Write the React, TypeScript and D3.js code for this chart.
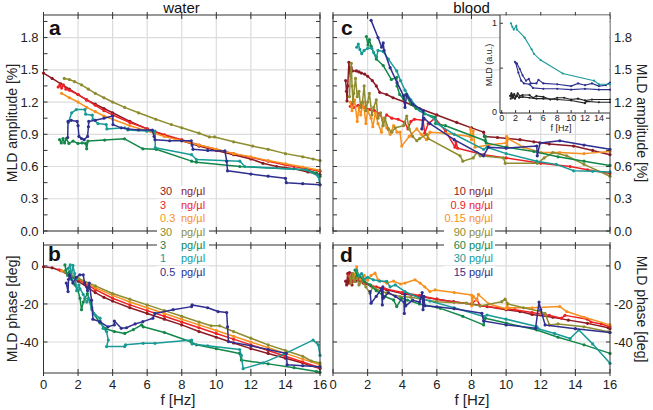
import React from 'react';
import * as d3 from 'd3';

type Pt = [number, number];

// ---------- Panel a: water, amplitude [%] ----------
const waterAmp30ng: Pt[] = [[0,1.47],[0.5,1.42],[1,1.37],[1.5,1.32],[2,1.27],[2.5,1.22],[3,1.18],[3.5,1.14],[4,1.10],[5,1.02],[6,0.95],[7,0.89],[8,0.84],[9,0.79],[10,0.75],[11,0.71],[12,0.67],[12.7,0.63],[13.5,0.60],[14.5,0.58],[15.3,0.55],[16,0.525]];
const waterAmp3ng: Pt[] = [[0.85,1.34],[0.95,1.36],[1.05,1.33],[1.15,1.36],[1.3,1.32],[1.5,1.31],[2,1.27],[2.5,1.22],[3,1.17],[3.5,1.12],[4,1.08],[5,1.01],[6,0.95],[7,0.895],[8,0.85],[9,0.80],[10,0.76],[11,0.72],[12,0.685],[13,0.65],[14,0.615],[15,0.585],[16,0.555]];
const waterAmp03ng: Pt[] = [[1.05,1.28],[1.5,1.24],[2,1.2],[2.5,1.15],[3,1.11],[3.5,1.07],[4,1.04],[5,0.98],[6,0.93],[7,0.88],[8,0.84],[9,0.80],[10,0.76],[11,0.72],[12,0.69],[13,0.655],[14,0.625],[15,0.595],[16,0.565]];
const waterAmp30pg: Pt[] = [[1.2,1.42],[1.5,1.41],[1.8,1.39],[2.2,1.36],[2.6,1.32],[3,1.28],[3.5,1.24],[4,1.2],[4.7,1.15],[5.5,1.10],[6.5,1.04],[7.4,0.99],[8,0.96],[9,0.91],[9.6,0.875],[9.9,0.875],[11,0.83],[12.1,0.79],[13,0.76],[14,0.72],[15,0.69],[15.6,0.67],[16,0.655]];
const waterAmp3pg: Pt[] = [[0.93,0.85],[1.03,0.82],[1.13,0.86],[1.22,0.82],[1.32,0.86],[1.47,0.815],[1.71,0.837],[1.99,0.815],[2.24,0.82],[2.44,0.815],[2.5,0.765],[2.57,0.837],[3.54,0.846],[4.69,0.858],[5.75,0.765],[6.52,0.76],[8.57,0.65],[8.85,0.64],[11.36,0.60],[15.2,0.57],[15.8,0.54],[16,0.51]];
const waterAmp1pg: Pt[] = [[1.44,1.01],[1.63,1.10],[1.9,1.13],[2.4,1.13],[2.44,1.087],[2.82,1.078],[2.86,1.04],[3.15,1.0],[3.63,0.99],[3.67,0.95],[4.7,0.96],[4.88,0.94],[5.96,0.93],[6.45,0.93],[6.47,0.775],[8.57,0.71],[8.85,0.665],[11.36,0.65],[11.65,0.60],[15.2,0.57],[15.9,0.51],[16,0.43]];
const waterAmp05pg: Pt[] = [[1.4,0.87],[1.42,1.02],[1.6,1.03],[1.95,1.02],[2.0,0.98],[2.05,0.88],[2.2,0.86],[2.35,0.85],[2.55,0.88],[2.6,0.97],[2.62,1.02],[3.0,1.03],[3.5,1.05],[4.0,1.07],[4.02,0.99],[4.5,0.96],[4.9,0.95],[5.5,0.94],[6.3,0.94],[6.4,0.88],[6.45,0.85],[7.3,0.84],[8.0,0.84],[8.55,0.84],[8.6,0.80],[8.65,0.76],[9.5,0.75],[10.5,0.745],[10.6,0.65],[10.65,0.56],[12,0.53],[13,0.51],[14.0,0.49],[14.05,0.45],[15,0.44],[16,0.43]];

// ---------- Panel b: water, phase [deg] ----------
const waterPh30ng: Pt[] = [[0,-0.5],[0.5,-1],[1,-2.5],[1.5,-5],[2,-8],[2.5,-11],[3,-14],[3.5,-16.5],[4,-18.5],[5,-22],[6,-25],[7,-28],[8,-31],[9,-34.5],[10,-37.5],[11,-40.5],[12,-43.5],[13,-46],[14,-48.5],[15,-51],[16,-54]];
const waterPh3ng: Pt[] = [[0.9,-2],[1.5,-4.5],[2,-7],[3,-12.5],[4,-17],[5,-20.5],[6,-23.5],[7,-26.5],[8,-29.5],[9,-32.5],[10,-35.5],[11,-38.5],[12,-41.5],[13,-44.5],[14,-47.5],[15,-50.5],[16,-53.5]];
const waterPh03ng: Pt[] = [[1.05,-2.5],[2,-6.5],[3,-11.5],[4,-15.5],[5,-19],[6,-22],[7,-25],[8,-28],[9,-31],[10,-34],[11,-37],[12,-40],[13,-43],[14,-46],[15,-49],[16,-52]];
const waterPh30pg: Pt[] = [[1.2,-3],[2,-6.5],[3,-10.5],[4,-14.5],[5,-17.5],[6,-20.5],[7,-23.5],[8,-26.5],[9,-29.5],[9.7,-31.5],[10.2,-31.5],[11,-34.5],[12,-38],[13,-41.5],[14,-44.5],[15,-47.5],[15.5,-50],[16,-51]];
const waterPh3pg: Pt[] = [[1.24,0.5],[1.3,-2],[1.4,-5],[1.5,-3],[1.6,-6],[1.82,-10],[2.0,-13],[2.11,-17],[2.2,-23],[2.3,-19],[2.4,-17],[2.54,-14.5],[2.7,-19],[2.8,-22],[2.9,-25],[3.27,-30],[3.6,-33],[4.1,-34.5],[4.7,-35.5],[5.2,-33.5],[5.68,-31],[5.77,-32],[7.0,-35],[8.55,-40],[8.85,-41.5],[10,-43.5],[11.35,-46],[11.45,-49.5],[13,-51.5],[14.5,-53.5],[15.8,-55.5],[16,-56]];
const waterPh1pg: Pt[] = [[1.43,-1.3],[1.55,0.5],[1.6,-7],[1.7,0.3],[1.8,-4],[1.85,-7],[1.92,-13],[2.05,-10],[2.11,-12],[2.3,-15],[2.5,-19],[2.6,-17],[2.8,-23],[2.99,-25.8],[3.27,-27.5],[3.45,-32.8],[3.65,-34.5],[3.75,-39],[3.65,-42.4],[4.7,-42.4],[4.75,-41.5],[5.77,-40.7],[6.45,-40.7],[8.57,-39],[8.6,-41],[9.5,-42],[11.35,-44],[11.45,-47],[11.55,-54],[12.7,-51],[14,-46],[15.6,-39],[15.9,-41.5],[16,-47]];
const waterPh05pg: Pt[] = [[1.32,-9],[1.42,-13.5],[1.45,-7],[1.52,-4.7],[1.7,-9],[1.9,-6],[2.1,-4.7],[2.3,-4.7],[2.38,-9],[2.55,-13],[2.65,-9],[2.78,-18],[2.86,-28],[3.25,-29.3],[3.73,-32],[4.1,-31],[4.1,-29],[4.5,-32.8],[4.8,-32.5],[5.3,-30.5],[5.75,-29.3],[6.33,-27.5],[6.45,-25],[7.5,-23],[8.57,-21.4],[8.6,-20.5],[9.5,-22],[10.1,-24],[10.6,-24.5],[10.65,-32],[10.7,-39.8],[12,-42],[13,-44],[14.05,-46],[14.1,-52],[15,-52.5],[16,-53]];

// ---------- Panel c: blood, amplitude [%] ----------
const bloodAmp10ng: Pt[] = [[0.73,1.40],[0.78,1.30],[0.81,1.21],[0.85,1.35],[0.92,1.57],[0.95,1.50],[1.0,1.46],[1.05,1.52],[1.12,1.49],[1.35,1.49],[1.5,1.48],[1.64,1.47],[1.83,1.46],[2.0,1.44],[2.27,1.40],[2.5,1.35],[2.7,1.29],[3.1,1.27],[3.47,1.24],[4.14,1.2],[5.0,1.14],[6.0,1.08],[7.15,1.01],[8.0,0.96],[8.7,0.92],[8.75,0.88],[9.5,0.87],[10.8,0.85],[11.6,0.83],[12.5,0.81],[13.9,0.79],[15,0.75],[16,0.71]];
const bloodAmp09ng: Pt[] = [[1.0,1.16],[1.1,1.19],[1.2,1.15],[1.45,1.17],[1.8,1.15],[2.12,1.13],[2.4,1.12],[2.7,1.09],[2.9,1.03],[3.1,1.08],[3.4,1.05],[3.76,1.04],[4.14,1.01],[4.33,0.95],[4.5,1.02],[4.7,1.04],[5.2,1.03],[5.3,0.91],[5.5,1.0],[5.9,1.05],[6.5,0.93],[7.05,0.78],[7.1,0.83],[7.2,0.77],[8.7,0.71],[10,0.68],[12,0.63],[13.7,0.60],[14.7,0.57],[16,0.535]];
const bloodAmp015ng: Pt[] = [[1.0,1.2],[1.1,1.12],[1.25,1.22],[1.4,1.02],[1.5,1.15],[1.6,1.08],[1.75,1.2],[1.9,1.0],[2.0,1.12],[2.2,1.05],[2.3,0.97],[2.45,1.1],[2.6,1.0],[2.8,0.92],[2.9,1.05],[3.1,0.96],[3.3,0.9],[3.5,0.98],[3.7,0.92],[3.87,0.92],[3.97,0.79],[4.4,0.88],[4.84,0.95],[5.1,0.9],[5.4,0.85],[5.6,0.92],[6.5,0.91],[7.92,0.88],[7.95,0.95],[8.0,0.85],[8.1,0.93],[8.2,0.78],[9.0,0.8],[10.0,0.82],[10.03,0.88],[10.06,0.79],[10.1,0.86],[11,0.78],[12,0.73],[13.1,0.73],[14.5,0.72],[16,0.74]];
const bloodAmp90pg: Pt[] = [[0.95,1.25],[1.0,1.45],[1.06,1.56],[1.1,1.35],[1.15,1.2],[1.2,1.28],[1.3,1.42],[1.4,1.25],[1.5,1.3],[1.6,1.15],[1.7,1.2],[1.8,1.35],[1.9,1.12],[2.0,1.2],[2.1,1.28],[2.25,1.08],[2.35,1.15],[2.5,1.22],[2.6,1.05],[2.75,1.1],[2.9,0.98],[3.0,1.05],[3.2,0.95],[3.4,0.92],[3.6,0.96],[4.07,0.98],[4.26,1.07],[4.4,0.95],[4.6,0.88],[4.84,0.84],[5.0,0.86],[5.41,0.90],[5.5,0.86],[7.34,0.70],[7.5,0.65],[8.1,0.68],[8.3,0.73],[8.5,0.70],[9.85,0.68],[9.95,0.63],[11.8,0.63],[12.2,0.68],[12.7,0.73],[13.5,0.70],[14.5,0.62],[16,0.51]];
const bloodAmp60pg: Pt[] = [[1.93,1.81],[2.02,1.73],[2.1,1.78],[2.2,1.72],[2.5,1.60],[2.9,1.54],[3.37,1.41],[3.68,1.43],[3.7,1.35],[3.85,1.27],[4.07,1.23],[4.2,1.27],[4.5,1.18],[4.8,1.14],[5.3,1.09],[5.9,1.06],[5.92,1.0],[6.5,0.98],[8.79,0.84],[8.8,0.88],[8.85,0.82],[10,0.78],[11.6,0.74],[13,0.69],[14.5,0.65],[16,0.61]];
const bloodAmp30pg: Pt[] = [[1.37,1.71],[1.46,1.74],[1.55,1.69],[1.66,1.65],[1.8,1.68],[2.0,1.70],[2.24,1.70],[2.35,1.66],[2.52,1.62],[2.6,1.68],[2.9,1.67],[3.2,1.6],[3.68,1.49],[3.9,1.4],[4.16,1.31],[4.5,1.22],[5.03,1.12],[5.9,1.04],[6.0,1.0],[7,0.9],[8.7,0.76],[8.9,0.78],[10,0.72],[11.77,0.65],[12.9,0.62],[13.9,0.56],[15,0.555],[16,0.55]];
const bloodAmp15pg: Pt[] = [[2.2,1.96],[2.6,1.8],[2.81,1.71],[2.9,1.75],[2.95,1.68],[3.3,1.52],[3.7,1.38],[4.07,1.26],[4.16,1.15],[4.25,1.27],[4.6,1.18],[5.22,1.12],[5.13,0.95],[5.25,1.05],[5.6,1.0],[7,0.85],[8.69,0.70],[8.98,0.78],[10,0.77],[11.77,0.79],[11.8,0.70],[11.96,0.82],[13.1,0.84],[14.5,0.80],[16,0.76]];

// ---------- Panel d: blood, phase [deg] ----------
const bloodPh10ng: Pt[] = [[0.73,-8],[0.79,-10],[0.85,-4],[0.9,-9],[0.95,-3.5],[1.0,-8],[1.05,-6],[1.1,-10],[1.2,-5],[1.3,-8],[1.5,-7],[1.75,-9],[2.2,-10.5],[3.1,-12.6],[4,-14.5],[5.03,-16.1],[6,-17.5],[6.96,-18.8],[8,-20],[8.9,-21.4],[10,-23],[10.8,-24],[11.5,-25.5],[12.7,-27],[13.6,-28.5],[14.7,-30.2],[15.9,-32.5],[16,-33]];
const bloodPh09ng: Pt[] = [[0.9,-5],[1.0,-9],[1.1,-4],[1.2,-8],[1.3,-6],[1.5,-8],[1.8,-9],[2.5,-11],[3,-12],[4,-14],[5,-15.5],[6,-17.5],[7,-19],[8,-20],[8.3,-17.5],[8.5,-21],[9.5,-22],[10.5,-23],[11.5,-24.5],[12.5,-26],[13.2,-27.5],[13.4,-26],[14.7,-28],[14.9,-29.5],[15.5,-30.5],[16,-32]];
const bloodPh015ng: Pt[] = [[1.18,-6.3],[1.3,-4],[1.37,-0.5],[1.45,-5],[1.6,-7],[1.8,-5],[2.0,-7.5],[2.2,-5],[2.43,-3.8],[2.6,-7.3],[3.1,-9],[3.5,-8],[3.9,-9.5],[4.16,-9],[4.74,-7.3],[5.03,-9],[5.3,-11],[5.6,-13.5],[5.9,-12.6],[7,-14],[8.0,-15.3],[8.02,-21],[8.1,-16],[8.3,-18],[8.4,-15],[9,-20],[10,-22.5],[10.05,-19.5],[10.1,-22],[11.5,-22],[13.1,-21.4],[13.5,-24],[14.5,-27],[16,-31]];
const bloodPh90pg: Pt[] = [[0.98,-5.6],[1.05,-9],[1.15,-4],[1.25,-8],[1.4,-6],[1.5,-10],[1.7,-8],[1.9,-11],[2.14,-14.4],[2.3,-11],[2.45,-12],[3.1,-14.4],[3.87,-16.1],[4.5,-16.5],[5.99,-18.8],[7.7,-19.6],[8.5,-21],[9.75,-18.8],[9.94,-17.5],[10.1,-20],[11,-22],[12,-24],[12.25,-25],[12.5,-31],[13,-30.5],[14.5,-32],[15.9,-34.6],[16,-35]];
const bloodPh60pg: Pt[] = [[1.27,-2.2],[1.4,-5],[1.56,-5.6],[1.8,-8],[2.14,-10],[2.5,-13],[3.0,-16.1],[3.5,-17.9],[3.68,-21.4],[3.97,-17],[4.3,-18],[5,-20],[6.2,-22.3],[7.5,-26.5],[8.7,-31],[8.8,-27.5],[10,-30],[11.77,-33.7],[13,-37.5],[14.5,-41.5],[16,-46]];
const bloodPh30pg: Pt[] = [[1.37,-2.2],[1.5,-5],[1.65,-4],[1.8,-7],[2.0,-6],[2.33,-7.3],[2.7,-8],[3.1,-8.1],[3.3,-11],[3.6,-10],[4.16,-13.5],[5.03,-17],[5.6,-18.5],[7,-22],[8.7,-26.6],[8.9,-25.8],[10,-28],[11.77,-31.9],[11.85,-33],[12.8,-35.5],[13.7,-38.2],[14.2,-33.7],[15,-41],[16,-51.2]];
const bloodPh15pg: Pt[] = [[2.14,-13.5],[2.2,-19.6],[2.5,-16],[2.8,-12],[2.85,-20.5],[2.88,-11],[2.9,-17],[3.2,-14],[3.6,-16],[4.1,-19],[4.12,-25],[4.15,-15],[4.2,-21],[4.6,-18],[5.0,-19],[5.15,-14],[5.2,-23],[5.25,-16],[5.3,-21],[6,-21.5],[7,-22.5],[8.6,-24.9],[8.7,-29],[10,-31],[11.7,-32.8],[11.9,-19],[12.0,-23],[12.25,-31],[14,-33],[16,-35]];

// ---------- Inset: MLD (a.u.) ----------
const insetTeal: Pt[] = [[1.33,1.0],[1.53,0.96],[1.73,0.93],[2.1,0.97],[2.2,0.93],[3.3,0.84],[4.3,0.71],[4.64,0.66],[5.6,0.59],[8.8,0.44],[13.3,0.36],[14.0,0.32],[16,0.32]];
const insetNavyA: Pt[] = [[1.9,0.57],[2.2,0.55],[2.6,0.49],[3.0,0.42],[3.5,0.36],[3.9,0.38],[4.2,0.33],[5.0,0.33],[5.3,0.37],[6,0.33],[8,0.32],[10,0.30],[11,0.33],[12,0.31],[13,0.33],[14,0.30],[15,0.31],[16,0.34]];
const insetNavyB: Pt[] = [[2.0,0.56],[2.4,0.45],[2.8,0.36],[3.2,0.33],[4,0.32],[4.5,0.28],[6,0.27],[8,0.27],[10,0.26],[12,0.27],[14,0.26],[16,0.26]];
const insetBlackA: Pt[] = [[1.2,0.19],[1.4,0.22],[1.6,0.17],[1.8,0.21],[2,0.18],[2.3,0.22],[2.6,0.19],[3,0.2],[4,0.2],[4.5,0.17],[5,0.19],[6,0.18],[7,0.15],[8,0.17],[9,0.17],[10,0.15],[11,0.16],[12,0.14],[13,0.15],[16,0.15]];
const insetBlackB: Pt[] = [[1.3,0.16],[1.5,0.2],[1.9,0.16],[2.2,0.19],[2.5,0.17],[3,0.18],[4,0.17],[5,0.16],[6,0.16],[8,0.15],[10,0.14],[12,0.11],[12.2,0.13],[14,0.12],[16,0.12]];

// ---------- Ticks and legend labels ----------
const freqTicks = [0, 2, 4, 6, 8, 10, 12, 14, 16];
const ampTicks = [0, 0.3, 0.6, 0.9, 1.2, 1.5, 1.8];
const ampMinorTicks = [0.15, 0.45, 0.75, 1.05, 1.35, 1.65, 1.95];
const phaseTicks = [0, -20, -40];
const insetXTicks = [0, 2, 4, 6, 8, 10, 12, 14];
const insetYTicks = [0, 0.5, 1];
const waterLegendNums = ['30', '3', '0.3', '30', '3', '1', '0.5'];
const waterLegendUnits = ['ng/µl', 'ng/µl', 'ng/µl', 'pg/µl', 'pg/µl', 'pg/µl', 'pg/µl'];
const bloodLegend = ['10 ng/µl', '0.9 ng/µl', '0.15 ng/µl', '90 pg/µl', '60 pg/µl', '30 pg/µl', '15 pg/µl'];

const COLORS = ['#8b1a24', '#ec2227', '#f7901e', '#8e8c2f', '#13874a', '#199a97', '#2e2f8e'];
const FONT = 'Liberation Sans, Arial, Helvetica, sans-serif';

const waterAmp = [waterAmp30ng, waterAmp3ng, waterAmp03ng, waterAmp30pg, waterAmp3pg, waterAmp1pg, waterAmp05pg];
const waterPh = [waterPh30ng, waterPh3ng, waterPh03ng, waterPh30pg, waterPh3pg, waterPh1pg, waterPh05pg];
const bloodAmp = [bloodAmp10ng, bloodAmp09ng, bloodAmp015ng, bloodAmp90pg, bloodAmp60pg, bloodAmp30pg, bloodAmp15pg];
const bloodPh = [bloodPh10ng, bloodPh09ng, bloodPh015ng, bloodPh90pg, bloodPh60pg, bloodPh30pg, bloodPh15pg];

type PanelProps = {
  x0: number; x1: number; y0: number; y1: number;
  yDomain: [number, number];
  yTicks: number[];
  yMinor?: number[];
  series: Pt[][];
  leftLabels?: boolean;
  rightLabels?: boolean;
  bottomLabels?: boolean;
  fmt: (v: number) => string;
};

function Panel(p: PanelProps) {
  const x = d3.scaleLinear().domain([0, 16]).range([p.x0, p.x1]);
  const y = d3.scaleLinear().domain(p.yDomain).range([p.y1, p.y0]);
  const line = d3.line<Pt>().x(d => x(d[0])).y(d => y(d[1]));
  const tk = 4;
  return (
    <g>
      <rect x={p.x0} y={p.y0} width={p.x1 - p.x0} height={p.y1 - p.y0} fill="#fff" />
      {freqTicks.slice(1, -1).map(t => (
        <line key={'gx' + t} x1={x(t)} x2={x(t)} y1={p.y0} y2={p.y1} stroke="#dcdcdc" strokeWidth={1.2} />
      ))}
      {p.yTicks.map(t => (
        <line key={'gy' + t} x1={p.x0} x2={p.x1} y1={y(t)} y2={y(t)} stroke="#dcdcdc" strokeWidth={1.2} />
      ))}
      {p.series.map((s, i) => (
        <g key={'s' + i}>
          <path d={line(s) || ''} fill="none" stroke={COLORS[i]} strokeWidth={1.5} strokeLinejoin="round" />
          {s.map((d, j) => (
            <circle key={j} cx={x(d[0])} cy={y(d[1])} r={1.6} fill={COLORS[i]} />
          ))}
        </g>
      ))}
      <rect x={p.x0} y={p.y0} width={p.x1 - p.x0} height={p.y1 - p.y0} fill="none" stroke="#333" strokeWidth={1} />
      {freqTicks.map(t => (
        <g key={'tx' + t}>
          <line x1={x(t)} x2={x(t)} y1={p.y1 - tk} y2={p.y1 + 3} stroke="#333" />
          <line x1={x(t)} x2={x(t)} y1={p.y0 - 3} y2={p.y0 + tk} stroke="#333" />
        </g>
      ))}
      {[...p.yTicks, ...(p.yMinor || [])].filter(t => y(t) > p.y0 && y(t) <= p.y1).map(t => (
        <g key={'ty' + t}>
          <line x1={p.x0} x2={p.x0 + tk} y1={y(t)} y2={y(t)} stroke="#333" />
          <line x1={p.x1 - tk} x2={p.x1} y1={y(t)} y2={y(t)} stroke="#333" />
        </g>
      ))}
      {p.leftLabels && p.yTicks.map(t => (
        <text key={'ly' + t} x={p.x0 - 5} y={y(t)} dy="0.35em" textAnchor="end" fontSize={13} fontFamily={FONT} fill="#222">{p.fmt(t)}</text>
      ))}
      {p.rightLabels && p.yTicks.map(t => (
        <text key={'ry' + t} x={p.x1 + 4} y={y(t)} dy="0.35em" textAnchor="start" fontSize={13} fontFamily={FONT} fill="#222">{p.fmt(t)}</text>
      ))}
      {p.bottomLabels && freqTicks.map(t => (
        <text key={'bx' + t} x={x(t)} y={p.y1 + 11} dy="0.35em" textAnchor="middle" fontSize={13} fontFamily={FONT} fill="#222">{t}</text>
      ))}
    </g>
  );
}

function Inset() {
  const x = d3.scaleLinear().domain([-0.25, 15.6]).range([500, 610]);
  const y = d3.scaleLinear().domain([0, 1.07]).range([113, 17]);
  const line = d3.line<Pt>().x(d => x(Math.min(d[0], 15.6))).y(d => y(d[1]));
  const sets: [Pt[], string][] = [[insetBlackA, '#222'], [insetBlackB, '#222'], [insetNavyA, COLORS[6]], [insetNavyB, COLORS[6]], [insetTeal, COLORS[5]]];
  return (
    <g>
      <rect x={500} y={15.5} width={109.5} height={97.5} fill="#fff" />
      {sets.map(([s, c], i) => (
        <g key={i}>
          <path d={line(s) || ''} fill="none" stroke={c} strokeWidth={1.1} />
          {s.map((d, j) => (
            <circle key={j} cx={x(Math.min(d[0], 15.6))} cy={y(d[1])} r={1.1} fill={c} />
          ))}
        </g>
      ))}
      <line x1={500} x2={500} y1={15} y2={113} stroke="#333" />
      <line x1={500} x2={610} y1={113} y2={113} stroke="#333" />
      {insetXTicks.map(t => (
        <g key={t}>
          <line x1={x(t)} x2={x(t)} y1={113} y2={110} stroke="#333" />
          <text x={x(t)} y={121} textAnchor="middle" fontSize={9} fontFamily={FONT} fill="#222">{t}</text>
        </g>
      ))}
      {insetYTicks.map(t => (
        <line key={t} x1={500} x2={503} y1={y(t)} y2={y(t)} stroke="#333" />
      ))}
      <text x={497} y={y(1)} dy="0.35em" textAnchor="end" fontSize={9} fontFamily={FONT} fill="#222">1</text>
      <text x={497} y={y(0)} dy="0.2em" textAnchor="end" fontSize={9} fontFamily={FONT} fill="#222">0</text>
      <text transform="translate(492,65) rotate(-90)" textAnchor="middle" fontSize={9} fontFamily={FONT} fill="#222">MLD (a.u.)</text>
      <text x={561} y={131} textAnchor="middle" fontSize={9} fontFamily={FONT} fill="#222">f [Hz]</text>
    </g>
  );
}

export default function App() {
  const ampFmt = (v: number) => v.toFixed(1);
  const phFmt = (v: number) => String(v);
  const rowY = (i: number) => 191.5 + i * 13.4;
  return (
    <svg width={653} height={410} style={{ position: 'absolute', left: 0, top: 0, background: '#fff' }}>
      <rect width={653} height={410} fill="#fff" />
      <text x={181.5} y={13} textAnchor="middle" fontSize={15} fontFamily={FONT} fill="#111">water</text>
      <text x={471.5} y={13} textAnchor="middle" fontSize={15} fontFamily={FONT} fill="#111">blood</text>

      <Panel x0={43.5} x1={320} y0={15} y1={231} yDomain={[0, 2.01]} yTicks={ampTicks} yMinor={ampMinorTicks} series={waterAmp} leftLabels fmt={ampFmt} />
      <Panel x0={43.5} x1={320} y0={245} y1={373} yDomain={[-56.3, 11]} yTicks={phaseTicks} series={waterPh} leftLabels bottomLabels fmt={phFmt} />
      <Panel x0={333} x1={610} y0={15} y1={231} yDomain={[0, 2.01]} yTicks={ampTicks} yMinor={ampMinorTicks} series={bloodAmp} rightLabels fmt={ampFmt} />
      <Panel x0={333} x1={610} y0={245} y1={373} yDomain={[-56.3, 11]} yTicks={phaseTicks} series={bloodPh} rightLabels bottomLabels fmt={phFmt} />
      <Inset />

      <text x={49} y={35} fontSize={21} fontWeight="bold" fontFamily={FONT} fill="#111">a</text>
      <text x={48} y={261} fontSize={21} fontWeight="bold" fontFamily={FONT} fill="#111">b</text>
      <text x={341} y={35} fontSize={21} fontWeight="bold" fontFamily={FONT} fill="#111">c</text>
      <text x={340} y={262} fontSize={21} fontWeight="bold" fontFamily={FONT} fill="#111">d</text>

      <text transform="translate(17,123) rotate(-90)" textAnchor="middle" fontSize={14} fontFamily={FONT} fill="#222">MLD amplitude [%]</text>
      <text transform="translate(17,309) rotate(-90)" textAnchor="middle" fontSize={14} fontFamily={FONT} fill="#222">MLD phase [deg]</text>
      <text transform="translate(637,123) rotate(90)" textAnchor="middle" fontSize={14} fontFamily={FONT} fill="#222">MLD amplitude [%]</text>
      <text transform="translate(637,309) rotate(90)" textAnchor="middle" fontSize={14} fontFamily={FONT} fill="#222">MLD phase [deg]</text>
      <text x={178} y={405} textAnchor="middle" fontSize={15} fontFamily={FONT} fill="#222">f [Hz]</text>
      <text x={472} y={405} textAnchor="middle" fontSize={15} fontFamily={FONT} fill="#222">f [Hz]</text>

      {waterLegendNums.map((n, i) => (
        <g key={'wl' + i}>
          <rect x={157} y={rowY(i) - 6} width={52} height={12} fill="#fff" />
          <text x={160} y={rowY(i)} dy="0.35em" fontSize={11} fontFamily={FONT} fill={COLORS[i]}>{n}</text>
          <text x={181} y={rowY(i)} dy="0.35em" fontSize={11} fontFamily={FONT} fill={COLORS[i]}>{waterLegendUnits[i]}</text>
        </g>
      ))}
      {bloodLegend.map((n, i) => (
        <g key={'bl' + i}>
          <rect x={444} y={rowY(i) - 6} width={51} height={12} fill="#fff" />
          <text x={493} y={rowY(i)} dy="0.35em" textAnchor="end" fontSize={11} fontFamily={FONT} fill={COLORS[i]}>{n}</text>
        </g>
      ))}
    </svg>
  );
}
